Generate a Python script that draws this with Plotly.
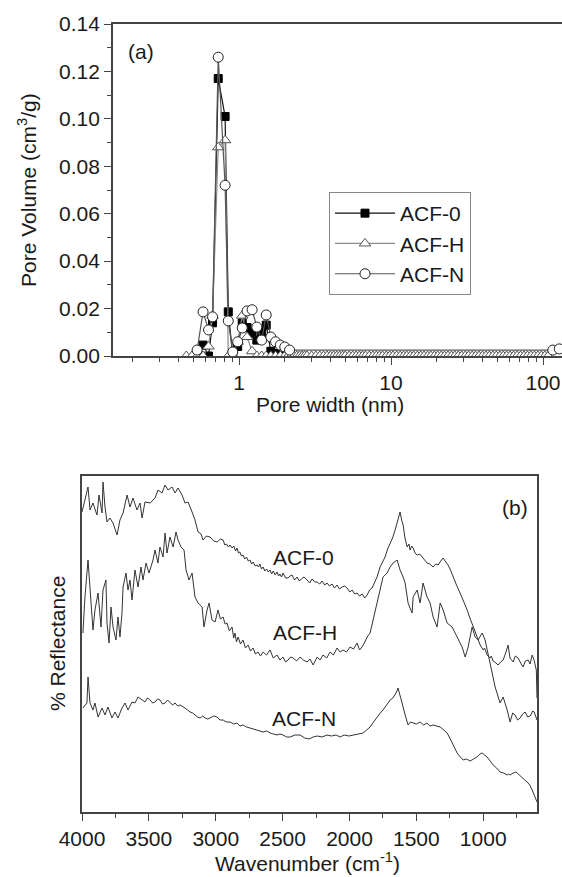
import plotly.graph_objects as go

# ---------------- Panel (a): pore size distribution ----------------
acf0_width = [0.53, 0.58, 0.63, 0.67, 0.73, 0.81, 0.85, 0.91, 0.98, 1.05, 1.13,
              1.22, 1.31, 1.41, 1.51, 1.62, 1.74, 1.87, 2.0]
acf0_volume = [0.000, 0.0046, 0.000, 0.014, 0.117, 0.101, 0.0186, 0.000, 0.004, 0.014, 0.012,
               0.0097, 0.0067, 0.0095, 0.013, 0.002, 0.001, 0.000, 0.000]

acfh_width = [0.45, 0.49, 0.53, 0.58, 0.63, 0.67, 0.73, 0.81, 0.85, 0.91, 0.98, 1.05, 1.13,
              1.22, 1.31, 1.41, 1.51, 1.62, 1.74, 1.87, 2.0,
              2.1, 2.2, 2.3, 2.4, 2.5, 2.6, 2.7, 2.8, 3.0, 3.2, 3.4, 3.6, 3.8, 4.0, 4.2,
              4.4, 4.6, 4.8, 5.0, 5.3, 5.6, 5.9, 6.2, 6.5, 6.8, 7.2, 7.6, 8.0, 8.4, 8.8,
              9.3, 9.8, 10.3, 10.9, 11.5, 12.1, 12.7, 13.4, 14.1, 14.9, 15.7, 16.5, 17.4,
              18.3, 19.3, 20.3, 21.4, 22.5, 23.7, 25.0, 26.3, 27.7, 29.2, 30.8, 32.4, 34.2,
              36.0, 37.9, 40.0, 42.1, 44.4, 46.8, 49.3, 52.0, 54.8, 57.7, 60.8, 64.1, 67.5,
              71.2, 75.0, 79.0, 83.3, 87.8, 92.5, 97.5, 102.7, 108.3]
acfh_volume = [0.000, 0.000, 0.000, 0.000, 0.004, 0.017, 0.088, 0.091, 0.000, 0.000, 0.006, 0.017, 0.008,
               0.002, 0.000, 0.000, 0.000, 0.000, 0.000, 0.000, 0.000,
               0.000, 0.000, 0.000, 0.000, 0.000, 0.000, 0.000, 0.000, 0.000, 0.000, 0.000, 0.000, 0.000, 0.000, 0.000,
               0.000, 0.000, 0.000, 0.000, 0.000, 0.000, 0.000, 0.000, 0.000, 0.000, 0.000, 0.000, 0.000, 0.000, 0.000,
               0.000, 0.000, 0.000, 0.000, 0.000, 0.000, 0.000, 0.000, 0.000, 0.000, 0.000, 0.000, 0.000,
               0.000, 0.000, 0.000, 0.000, 0.000, 0.000, 0.000, 0.000, 0.000, 0.000, 0.000, 0.000, 0.000,
               0.000, 0.000, 0.000, 0.000, 0.000, 0.000, 0.000, 0.000, 0.000, 0.000, 0.000, 0.000, 0.000,
               0.000, 0.000, 0.000, 0.000, 0.000, 0.000, 0.000, 0.000, 0.000]

acfn_width = [0.53, 0.58, 0.63, 0.67, 0.73, 0.81, 0.85, 0.91, 0.98, 1.05, 1.13, 1.22, 1.31,
              1.41, 1.51, 1.62, 1.74, 1.87, 2.0, 2.15, 116.0, 128.0]
acfn_volume = [0.0025, 0.0186, 0.011, 0.0165, 0.126, 0.072, 0.0148, 0.0017, 0.006, 0.0118, 0.019, 0.0195, 0.0122,
               0.0067, 0.0173, 0.008, 0.006, 0.0046, 0.0038, 0.0025, 0.0025, 0.003]

width_tickvals = [1, 10, 100]
width_ticktext = ["1", "10", "100"]
width_minor = [0.2, 0.3, 0.4, 0.5, 0.6, 0.7, 0.8, 0.9, 2, 3, 4, 5, 6, 7, 8, 9,
               20, 30, 40, 50, 60, 70, 80, 90]
volume_ticks = [0.00, 0.02, 0.04, 0.06, 0.08, 0.10, 0.12, 0.14]

# ---------------- Panel (b): FTIR spectra ----------------
ir0_wn = [4000, 3955, 3940, 3918, 3888, 3873, 3850, 3843, 3828, 3813, 3791, 3768, 3738, 3716,
          3693, 3663, 3641, 3619, 3589, 3566, 3551, 3529, 3491, 3454, 3432, 3402, 3379, 3357,
          3327, 3304, 3282, 3252, 3230, 3207, 3177, 3155, 3132, 3110, 3095, 3070, 3043, 3015,
          2990, 2965, 2945, 2932, 2920, 2905, 2893, 2878, 2865, 2852, 2841, 2830, 2820, 2808,
          2796, 2783, 2770, 2757, 2744, 2732, 2720, 2705, 2691, 2680, 2670, 2658, 2646, 2633,
          2620, 2607, 2594, 2582, 2570, 2555, 2542, 2530, 2520, 2508, 2497, 2478, 2459, 2445,
          2430, 2410, 2392, 2375, 2360, 2340, 2317, 2298, 2280, 2260, 2242, 2222, 2205, 2185,
          2168, 2150, 2130, 2112, 2093, 2075, 2055, 2036, 2018, 1998, 1980, 1962, 1943, 1925,
          1905, 1886, 1868, 1850, 1831, 1812, 1794, 1771, 1750, 1734, 1715, 1696, 1678, 1659,
          1640, 1622, 1610, 1599, 1585, 1569, 1555, 1547, 1535, 1524, 1510, 1494, 1475, 1457,
          1440, 1420, 1400, 1375, 1355, 1337, 1318, 1300, 1280, 1263, 1245, 1225, 1200, 1173,
          1150, 1135, 1120, 1100, 1083, 1065, 1046, 1035, 1023, 1000, 990, 971, 950, 940, 926,
          905, 889, 870, 851, 830, 814, 800, 776, 760, 739, 720, 702, 685, 664, 650, 634,
          620, 612, 603, 598]
ir0_val = [298, 323, 300, 307, 295, 315, 297, 328, 303, 288, 292, 287, 275, 290,
           297, 315, 303, 312, 300, 307, 292, 308, 307, 312, 320, 317, 325, 320,
           323, 317, 322, 315, 307, 308, 298, 290, 278, 276, 270, 274, 273, 269,
           268, 271, 270, 265, 266, 263, 265, 262, 264, 259, 262, 257, 258, 254,
           255, 251, 253, 249, 250, 246, 248, 244, 245, 243, 246, 241, 243, 239,
           241, 238, 240, 236, 239, 235, 238, 234, 236, 233, 237, 232, 232, 234,
           235, 230, 233, 229, 231, 233, 230, 227, 231, 228, 228, 226, 229, 225,
           227, 224, 226, 222, 225, 221, 223, 224, 222, 218, 220, 216, 217, 214,
           216, 212, 215, 220, 222, 228, 233, 243, 249, 253, 261, 267, 272, 280,
           290, 298, 290, 285, 272, 263, 266, 260, 264, 262, 257, 255, 256, 253,
           250, 247, 246, 243, 246, 245, 249, 252, 248, 245, 240, 233, 225, 217,
           210, 206, 200, 192, 187, 180, 173, 168, 165, 160, 162, 155, 152, 154, 149,
           147, 145, 148, 150, 158, 165, 152, 148, 154, 152, 147, 143, 149, 150, 146, 155,
           150, 145, 140, 112]

irh_wn = [3993, 3978, 3955, 3933, 3918, 3903, 3880, 3858, 3843, 3821, 3813, 3798, 3783, 3768,
          3746, 3731, 3716, 3701, 3693, 3671, 3656, 3641, 3626, 3604, 3581, 3559, 3544, 3521,
          3499, 3469, 3454, 3432, 3417, 3394, 3379, 3364, 3342, 3319, 3297, 3282, 3260, 3237,
          3222, 3200, 3177, 3155, 3132, 3102, 3088, 3065, 3050, 3028, 3005, 2983, 2965, 2945,
          2930, 2916, 2898, 2878, 2866, 2856, 2845, 2833, 2815, 2796, 2778, 2758, 2740, 2721,
          2703, 2684, 2665, 2646, 2620, 2594, 2570, 2542, 2520, 2497, 2478, 2459, 2440, 2422,
          2395, 2370, 2345, 2317, 2295, 2272, 2255, 2242, 2220, 2198, 2170, 2145, 2120, 2093,
          2070, 2048, 2022, 1996, 1970, 1943, 1925, 1906, 1885, 1868, 1846, 1824, 1794,
          1771, 1749, 1719, 1696, 1674, 1644, 1637, 1622, 1599, 1584, 1562, 1532, 1524, 1494,
          1472, 1450, 1420, 1397, 1375, 1345, 1322, 1300, 1270, 1233, 1195, 1158, 1135, 1113,
          1083, 1061, 1038, 1008, 986, 949, 911, 874, 851, 821, 799, 780, 762, 743, 724, 705,
          687, 668, 649, 630, 619, 598]
irh_val = [177, 213, 250, 207, 180, 200, 217, 183, 220, 230, 187, 167, 203, 183,
           170, 193, 173, 197, 223, 237, 220, 230, 210, 240, 223, 243, 230, 247,
           237, 250, 260, 247, 263, 253, 277, 257, 273, 263, 278, 270, 263, 260,
           240, 230, 237, 213, 207, 203, 183, 200, 207, 190, 188, 200, 191, 193,
           186, 187, 179, 183, 172, 177, 168, 173, 166, 170, 162, 165, 159, 162,
           156, 158, 154, 158, 155, 160, 152, 155, 150, 153, 148, 150, 153, 152,
           149, 153, 150, 148, 151, 145, 149, 153, 150, 155, 152, 158, 155, 162,
           158, 160, 158, 163, 161, 167, 160, 163, 168, 173, 177, 190, 207,
           223, 233, 237, 243, 247, 250, 247, 240, 233, 227, 207, 197, 213, 220,
           207, 227, 213, 207, 193, 183, 207, 200, 187, 183, 173, 163, 153, 163,
           183, 173, 170, 177, 170, 147, 123, 107, 113, 100, 88, 97, 95, 90, 92, 96,
           98, 93, 94, 99, 98, 90]

irn_wn = [3993, 3963, 3955, 3940, 3918, 3903, 3880, 3850, 3828, 3806, 3776, 3753, 3731, 3701,
          3678, 3656, 3626, 3604, 3581, 3551, 3529, 3510, 3491, 3472, 3454, 3435, 3417, 3398,
          3379, 3360, 3342, 3323, 3304, 3285, 3267, 3248, 3230, 3210, 3192, 3173, 3155, 3136,
          3117, 3098, 3080, 3060, 3043, 3015, 2990, 2968, 2945, 2920, 2893, 2866, 2841, 2818,
          2796, 2770, 2744, 2718, 2691, 2668, 2646, 2620, 2594, 2568, 2542, 2520, 2497, 2470,
          2444, 2408, 2370, 2335, 2302, 2272, 2240, 2205, 2168, 2135, 2100, 2070, 2040, 2005,
          1973, 1935, 1898, 1872, 1846, 1820, 1794, 1770, 1749, 1722, 1696, 1676, 1659, 1648,
          1637, 1622, 1607, 1584, 1562, 1545, 1524, 1500, 1472, 1445, 1420, 1398, 1375, 1350,
          1322, 1295, 1270, 1250, 1233, 1215, 1195, 1172, 1150, 1125, 1098, 1072, 1046, 1025,
          1008, 990, 971, 948, 926, 900, 874, 848, 821, 810, 799, 776, 754, 730, 709, 690,
          672, 652, 634, 622, 612, 598]
irn_val = [102, 107, 133, 107, 100, 107, 93, 102, 95, 103, 92, 98, 92, 102,
           107, 100, 108, 107, 113, 110, 108, 112, 110, 107, 108, 111, 110, 106,
           107, 110, 108, 105, 107, 104, 105, 103, 102, 100, 98, 97, 95, 93,
           92, 94, 92, 91, 92, 94, 93, 90, 90, 88, 88, 86, 87, 84,
           85, 83, 82, 81, 80, 79, 78, 79, 77, 76, 75, 76, 75, 73,
           73, 75, 75, 72, 71, 73, 74, 73, 75, 74, 75, 73, 75, 74,
           75, 76, 77, 80, 83, 88, 93, 97, 100, 105, 110, 112, 115, 118,
           122, 113, 107, 95, 85, 88, 87, 86, 88, 85, 87, 84, 85, 84,
           83, 80, 77, 72, 67, 62, 57, 53, 50, 51, 49, 51, 53, 56,
           57, 55, 53, 49, 45, 42, 38, 37, 35, 36, 35, 37, 38, 35, 32, 30,
           28, 25, 20, 16, 12, 8]

wn_tickvals = [4000, 3500, 3000, 2500, 2000, 1500, 1000]
wn_minor = [3750, 3250, 2750, 2250, 1750, 1250, 750]

FONT = "Liberation Sans, Arial, sans-serif"
TXT = "#1a1a1a"
AX = "#444444"
W, H = 562, 877

fig = go.Figure()

fig.add_trace(go.Scatter(
    x=acf0_width, y=acf0_volume, name="ACF-0", mode="lines+markers",
    xaxis="x", yaxis="y", legendgroup="a0",
    line=dict(color="#111111", width=1.2),
    marker=dict(symbol="square", size=8, color="#000000", line=dict(color="#000000", width=1))))
fig.add_trace(go.Scatter(
    x=acfh_width, y=acfh_volume, name="ACF-H", mode="lines+markers",
    xaxis="x", yaxis="y", legendgroup="aH",
    line=dict(color="#8a8a8a", width=1.2),
    marker=dict(symbol="triangle-up", size=10, color="white", line=dict(color="#555555", width=1))))
fig.add_trace(go.Scatter(
    x=acfn_width, y=acfn_volume, name="ACF-N", mode="lines+markers",
    xaxis="x", yaxis="y", legendgroup="aN",
    line=dict(color="#555555", width=1.2),
    marker=dict(symbol="circle", size=10, color="white", line=dict(color="#222222", width=1))))

for wn, val in [(ir0_wn, ir0_val), (irh_wn, irh_val), (irn_wn, irn_val)]:
    fig.add_trace(go.Scatter(x=wn, y=val, mode="lines", xaxis="x2", yaxis="y2",
                             showlegend=False, line=dict(color="#333333", width=1)))

def px(x):
    return x / W

def py(y):
    return 1 - y / H

axis_common = dict(showline=True, linecolor=AX, linewidth=1.8, ticks="outside",
                   tickcolor=AX, tickwidth=1.4, ticklen=7, showgrid=False, zeroline=False,
                   automargin=False, tickfont=dict(family=FONT, size=21, color=TXT))

fig.update_layout(
    width=W, height=H, margin=dict(l=0, r=0, t=0, b=0),
    paper_bgcolor="white", plot_bgcolor="white",
    font=dict(family=FONT, size=21, color=TXT),
    xaxis=dict(**axis_common, type="log", domain=[px(113), 1.0], anchor="y",
               range=[-0.829, 2.125], mirror=True,
               tickmode="array", tickvals=width_tickvals, ticktext=width_ticktext,
               minor=dict(tickmode="array", tickvals=width_minor, ticks="outside",
                          ticklen=4, tickcolor=AX, tickwidth=1.2)),
    yaxis=dict(**axis_common, domain=[py(356), py(24)], anchor="x",
               range=[0, 0.14], tickmode="array", tickvals=volume_ticks, tickformat=".2f",
               minor=dict(dtick=0.01, ticks="outside", ticklen=4, tickcolor=AX, tickwidth=1.2)),
    xaxis2=dict(**axis_common, domain=[px(82), px(537)], anchor="y2",
                range=[4000, 598], mirror=True, tickmode="array", tickvals=wn_tickvals,
                minor=dict(tickmode="array", tickvals=wn_minor, ticks="outside",
                           ticklen=4, tickcolor=AX, tickwidth=1.2)),
    yaxis2=dict(showline=True, linecolor=AX, linewidth=1.8, mirror=True, ticks="",
                showticklabels=False, showgrid=False, zeroline=False, automargin=False,
                domain=[py(812), py(476)], anchor="x2", range=[-2, 334]),
    legend=dict(x=px(329), y=py(192), xanchor="left", yanchor="top",
                bordercolor="#888888", borderwidth=1, bgcolor="white",
                font=dict(family=FONT, size=21, color=TXT), tracegroupgap=0,
                itemwidth=60),
    showlegend=True,
)

ann = [
    ("(a)", 141, 52, 0, "center"),
    ("(b)", 500, 507, 0, "left"),
    ("ACF-0", 303, 557, 0, "center"),
    ("ACF-H", 305, 632, 0, "center"),
    ("ACF-N", 304, 718, 0, "center"),
    ("Pore width (nm)", 330, 404, 0, "center"),
    ("Wavenumber (cm<sup>-1</sup>)", 307, 862, 0, "center"),
    ("Pore Volume (cm<sup>3</sup>/g)", 27, 190, -90, "center"),
    ("% Reflectance", 57, 644, -90, "center"),
]
for text, x, y, ang, xa in ann:
    fig.add_annotation(text=text, x=px(x), y=py(y), xref="paper", yref="paper",
                       showarrow=False, textangle=ang, xanchor=xa, yanchor="middle",
                       font=dict(family=FONT, size=21, color=TXT))

fig.write_html("out.html")
